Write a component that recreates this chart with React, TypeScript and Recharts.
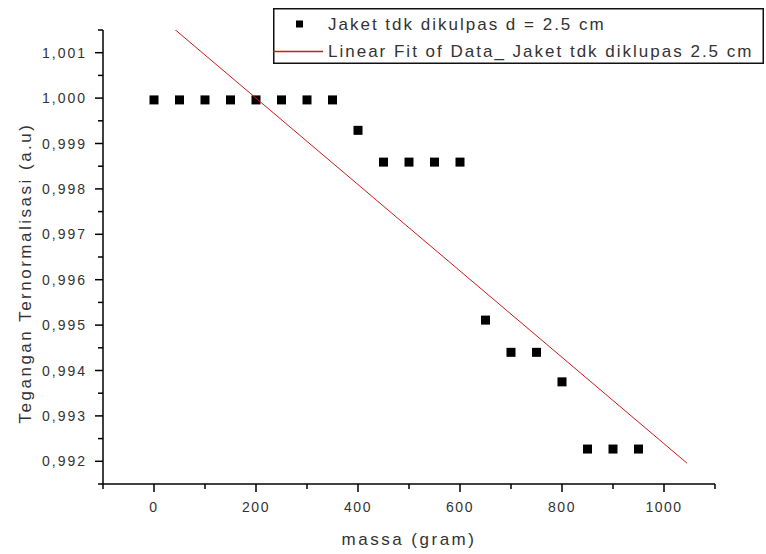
import React from 'react';
import { ScatterChart, Scatter, XAxis, YAxis } from 'recharts';

const massa: number[] = [0, 50, 100, 150, 200, 250, 300, 350, 400, 450, 500, 550, 600, 650, 700, 750, 800, 850, 900, 950];
const tegangan: number[] = [
  0.99996, 0.99996, 0.99996, 0.99996, 0.99996, 0.99996, 0.99996, 0.99996,
  0.99929, 0.99859, 0.99859, 0.99859, 0.99859,
  0.99511, 0.9944, 0.9944, 0.99375, 0.99227, 0.99227, 0.99227,
];
const fitX: number[] = [40, 1045];
const fitY: number[] = [1.00152, 0.99196];

const xTicks: number[] = [-100, 0, 100, 200, 300, 400, 500, 600, 700, 800, 900, 1000, 1100];
const yTicks: number[] = [
  0.9915, 0.992, 0.9925, 0.993, 0.9935, 0.994, 0.9945, 0.995, 0.9955, 0.996, 0.9965,
  0.997, 0.9975, 0.998, 0.9985, 0.999, 0.9995, 1.0, 1.0005, 1.001, 1.0015,
];

const seriesName = 'Jaket tdk dikulpas d = 2.5 cm';
const fitName = 'Linear Fit of Data_ Jaket tdk diklupas 2.5 cm';
const xLabel = 'massa (gram)';
const yLabel = 'Tegangan Ternormalisasi (a.u)';

const dataPts = massa.map((x, i) => ({ x, y: tegangan[i] }));
const fitPts = fitX.map((x, i) => ({ x, y: fitY[i] }));

const FONT = '"Liberation Sans", Arial, sans-serif';
const TEXT = '#333';

const XTick = (props: any) => {
  const { x, y, payload } = props;
  const v = Math.round(payload.value);
  const major = v % 200 === 0;
  return (
    <g>
      <line x1={x} y1={y} x2={x} y2={y + (major ? 8 : 5)} stroke="#000" strokeWidth={1.5} />
      {major && (
        <text x={x} y={y + 28} textAnchor="middle" fontFamily={FONT} fontSize={14} letterSpacing={1.5} fill={TEXT}>
          {String(v)}
        </text>
      )}
    </g>
  );
};

const YTick = (props: any) => {
  const { x, y, payload } = props;
  const k = Math.round(payload.value * 10000);
  const major = k % 10 === 0;
  return (
    <g>
      <line x1={x - (major ? 8 : 5)} y1={y} x2={x} y2={y} stroke="#000" strokeWidth={1.5} />
      {major && (
        <text x={x - 16} y={y + 5} textAnchor="end" fontFamily={FONT} fontSize={14} letterSpacing={2} fill={TEXT}>
          {(k / 10000).toFixed(3).replace('.', ',')}
        </text>
      )}
    </g>
  );
};

const Square = (props: any) => {
  const { cx, cy } = props;
  if (cx == null || cy == null) return <g />;
  return <rect x={cx - 4.5} y={cy - 4.5} width={9} height={9} fill="#000" />;
};

const NoShape = () => <g />;

export default function App() {
  return (
    <div style={{ position: 'absolute', left: 0, top: 0, width: 766, height: 554, background: '#fff' }}>
      <ScatterChart width={766} height={554} margin={{ top: 30, right: 51, bottom: 0, left: 0 }}>
        <XAxis
          type="number"
          dataKey="x"
          domain={[-100, 1100]}
          ticks={xTicks}
          interval={0}
          height={70}
          tickSize={0}
          tickMargin={0}
          tickLine={false}
          tick={<XTick />}
          axisLine={{ stroke: '#000', strokeWidth: 1.5 }}
          allowDataOverflow
          label={{
            content: (p: any) => {
              const vb = p.viewBox || {};
              return (
                <text x={vb.x + vb.width / 2} y={545} textAnchor="middle" fontFamily={FONT} fontSize={17} letterSpacing={2.5} fill={TEXT}>
                  {xLabel}
                </text>
              );
            },
          }}
        />
        <YAxis
          type="number"
          dataKey="y"
          domain={[0.9915, 1.0015]}
          ticks={yTicks}
          interval={0}
          width={103}
          tickSize={0}
          tickMargin={0}
          tickLine={false}
          tick={<YTick />}
          axisLine={{ stroke: '#000', strokeWidth: 1.5 }}
          allowDataOverflow
          label={{
            content: () => (
              <text
                x={25}
                y={273}
                transform="rotate(-90 25 273)"
                textAnchor="middle"
                dominantBaseline="central"
                fontFamily={FONT}
                fontSize={17}
                letterSpacing={2.5}
                fill={TEXT}
              >
                {yLabel}
              </text>
            ),
          }}
        />
        <Scatter name={seriesName} data={dataPts} shape={<Square />} isAnimationActive={false} />
        <Scatter
          name={fitName}
          data={fitPts}
          line={{ stroke: '#cc1a1a', strokeWidth: 1 }}
          shape={<NoShape />}
          isAnimationActive={false}
        />
      </ScatterChart>
      <div style={{ position: 'absolute', left: 273, top: 8, width: 491, height: 56 }}>
        <svg width={491} height={56} style={{ display: 'block' }}>
          <rect x={0.75} y={0.75} width={489.5} height={54.5} fill="#fff" stroke="#111" strokeWidth={1.5} />
          <rect x={23} y={12.5} width={7} height={7} fill="#000" />
          <line x1={0} y1={43.5} x2={50} y2={43.5} stroke="#cc1a1a" strokeWidth={1.3} />
          <text x={55} y={22} fontFamily={FONT} fontSize={17} letterSpacing={2} fill={TEXT}>
            {seriesName}
          </text>
          <text x={55} y={49} fontFamily={FONT} fontSize={17} letterSpacing={2} fill={TEXT}>
            {fitName}
          </text>
        </svg>
      </div>
    </div>
  );
}
